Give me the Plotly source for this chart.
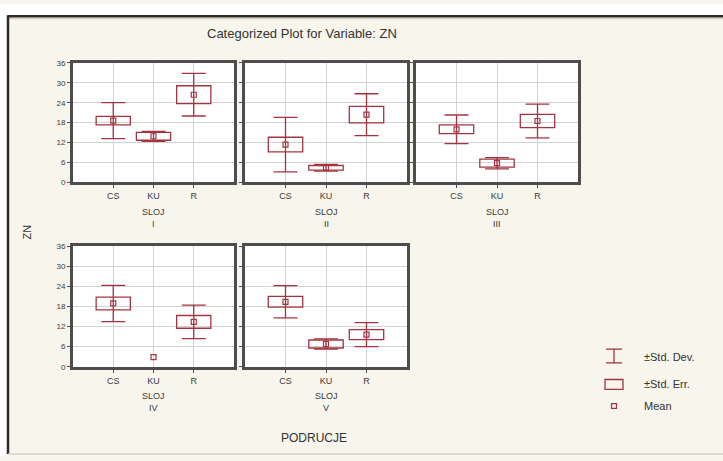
import plotly.graph_objects as go

# ---------------- data ----------------
categories = ["CS", "KU", "R"]
layers = ["I", "II", "III", "IV", "V"]

mean_I = [18.6, 13.9, 26.4]
sd_I = [5.4, 1.5, 6.4]
se_I = [1.3, 1.2, 2.7]

mean_II = [11.4, 4.4, 20.4]
sd_II = [8.2, 1.0, 6.3]
se_II = [2.2, 0.7, 2.5]

mean_III = [16.0, 5.8, 18.5]
sd_III = [4.3, 1.7, 5.1]
se_III = [1.3, 1.2, 2.0]

mean_IV = [18.9, 2.9, 13.4]
sd_IV = [5.4, None, 5.0]
se_IV = [1.9, None, 1.9]

mean_V = [19.4, 6.8, 9.6]
sd_V = [4.8, 1.5, 3.6]
se_V = [1.6, 1.2, 1.5]

y_ticks = [0, 6, 12, 18, 24, 30, 36]

means = [mean_I, mean_II, mean_III, mean_IV, mean_V]
sds = [sd_I, sd_II, sd_III, sd_IV, sd_V]
ses = [se_I, se_II, se_III, se_IV, se_V]

# ---------------- layout helpers ----------------
W, H = 723, 461
RED = "#a3343f"
FRAME = "#4d4d4d"
GRID = "#d2d2d2"
BEIGE = "#f8f5ec"
TXT = "#3a3a3a"
FONT = "Liberation Sans, Arial, sans-serif"


def px(x):
    return x / W


def py(y):
    return 1 - y / H


def label(text, x, y, size, color=TXT, xanchor="center", angle=0):
    return dict(text=text, x=px(x), y=py(y), xref="paper", yref="paper",
                xanchor=xanchor, yanchor="middle", showarrow=False,
                textangle=angle, font=dict(size=size, color=color, family=FONT))


panels = [(73, 234, 60, 182), (245, 407, 60, 182), (416, 578, 60, 182),
          (73, 234, 247, 370), (245, 407, 247, 370)]

fig = go.Figure()
layout = {}
annotations = []
shapes = []

for i, (l, r, t, b) in enumerate(panels):
    n = i + 1
    xa, ya = f"x{n}", f"y{n}"
    m, sd, se = means[i], sds[i], ses[i]

    # std. err. boxes
    fig.add_trace(go.Bar(
        x=categories,
        y=[None if s is None else 2 * s for s in se],
        base=[None if s is None else mv - s for mv, s in zip(m, se)],
        width=0.85,
        marker=dict(color="rgba(0,0,0,0)", line=dict(color=RED, width=1.3)),
        xaxis=xa, yaxis=ya, showlegend=False, hoverinfo="skip"))

    # std. dev. whiskers
    wx = [c for c, s in zip(categories, sd) if s is not None]
    wy = [mv for mv, s in zip(m, sd) if s is not None]
    ws = [s for s in sd if s is not None]
    fig.add_trace(go.Scatter(
        x=wx, y=wy, mode="markers",
        marker=dict(size=1, color="rgba(0,0,0,0)"),
        error_y=dict(type="data", array=ws, visible=True, color=RED,
                     thickness=1.3, width=12),
        xaxis=xa, yaxis=ya, showlegend=False, hoverinfo="skip"))

    # means
    fig.add_trace(go.Scatter(
        x=categories, y=m, mode="markers",
        marker=dict(symbol="square-open", size=5, color=RED,
                    line=dict(width=1.2, color=RED)),
        xaxis=xa, yaxis=ya, showlegend=False))

    key = "" if n == 1 else str(n)
    layout[f"xaxis{key}"] = dict(
        domain=[px(l), px(r)], anchor=ya, type="category",
        categoryorder="array", categoryarray=categories,
        range=[-1, 3], showgrid=True, gridcolor=GRID, gridwidth=1,
        showline=True, linecolor=FRAME, linewidth=3, mirror=True,
        ticks="outside", ticklen=3, tickcolor=FRAME,
        tickfont=dict(size=9, color=TXT, family=FONT),
        zeroline=False, fixedrange=True)
    layout[f"yaxis{key}"] = dict(
        domain=[py(b), py(t)], anchor=xa, range=[0, 36],
        tickvals=y_ticks, showgrid=True, gridcolor=GRID, gridwidth=1,
        showline=True, linecolor=FRAME, linewidth=3, mirror=True,
        ticks="outside", ticklen=3, tickcolor=FRAME,
        showticklabels=(i in (0, 3)),
        tickfont=dict(size=8, color=TXT, family=FONT),
        zeroline=False, fixedrange=True)

    cx = (l + r) / 2
    annotations.append(label("SLOJ", cx, b + 30, 9))
    annotations.append(label(layers[i], cx, b + 42, 9))

# titles
annotations.append(label("Categorized Plot for Variable: ZN", 302, 30, 13, "#333"))
annotations.append(label("ZN", 27, 233, 11, "#333", angle=-90))
annotations.append(label("PODRUCJE", 314, 443, 12, "#333"))

# legend
lx = 614
leg = [("±Std. Dev.", 360), ("±Std. Err.", 388), ("Mean", 410)]
for txt, yy in leg:
    annotations.append(label(txt, 642, yy, 11, "#333", xanchor="left"))
# whisker icon
shapes.append(dict(type="line", xref="paper", yref="paper", x0=px(lx), x1=px(lx),
                   y0=py(352), y1=py(366), line=dict(color=RED, width=1.3)))
for yy in (352, 366):
    shapes.append(dict(type="line", xref="paper", yref="paper", x0=px(lx - 8), x1=px(lx + 8),
                       y0=py(yy), y1=py(yy), line=dict(color=RED, width=1.3)))
# box icon
shapes.append(dict(type="rect", xref="paper", yref="paper", x0=px(lx - 9), x1=px(lx + 9),
                   y0=py(393), y1=py(383), line=dict(color=RED, width=1.3)))
# mean icon
shapes.append(dict(type="rect", xref="paper", yref="paper", x0=px(lx - 2.5), x1=px(lx + 2.5),
                   y0=py(412.5), y1=py(407.5), line=dict(color=RED, width=1.2)))

# outer frame
shapes.append(dict(type="rect", xref="paper", yref="paper", x0=0, x1=1, y0=py(11), y1=1,
                   fillcolor="white", line=dict(width=0), layer="above"))
shapes.append(dict(type="rect", xref="paper", yref="paper", x0=0, x1=px(7), y0=0, y1=1,
                   fillcolor="white", line=dict(width=0), layer="above"))
shapes.append(dict(type="line", xref="paper", yref="paper", x0=px(8), x1=1,
                   y0=py(12.5), y1=py(12.5), line=dict(color="#2e2a25", width=2.5)))
shapes.append(dict(type="line", xref="paper", yref="paper", x0=px(8), x1=1,
                   y0=py(15), y1=py(15), line=dict(color="#c9c6bd", width=1)))
shapes.append(dict(type="line", xref="paper", yref="paper", x0=px(8), x1=px(8),
                   y0=py(11.5), y1=py(459), line=dict(color="#2e2a25", width=2.5)))
shapes.append(dict(type="line", xref="paper", yref="paper", x0=px(8), x1=1,
                   y0=py(459), y1=py(459), line=dict(color="#d4d1c8", width=1.5)))

fig.update_layout(
    width=W, height=H, margin=dict(l=0, r=0, t=0, b=0),
    paper_bgcolor=BEIGE, plot_bgcolor="white",
    barmode="overlay", showlegend=False,
    annotations=annotations, shapes=shapes,
    font=dict(family=FONT),
    **layout)

fig.write_html("out.html", config={"displayModeBar": False},
               post_script="document.body.style.margin='0px';document.body.style.overflow='hidden';")
